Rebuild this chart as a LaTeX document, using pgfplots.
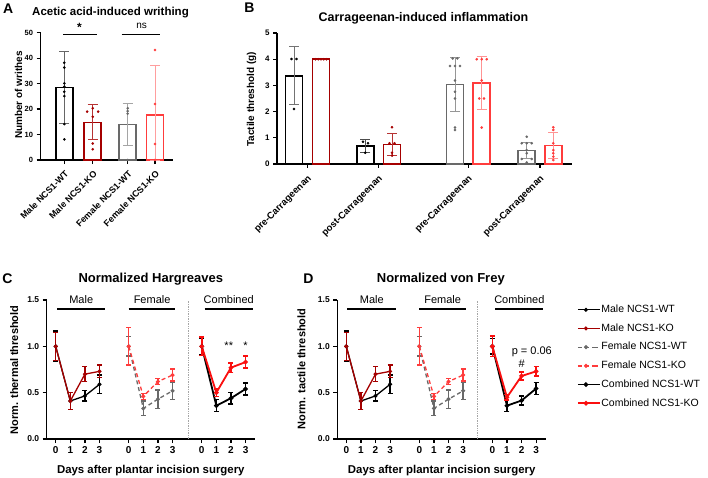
\documentclass[border=0pt]{standalone}
\usepackage{pgfplots}
\pgfplotsset{compat=1.18}
\usepackage{fontspec}
\setmainfont{Liberation Sans}
\definecolor{mred}{RGB}{165,0,0}
\definecolor{fgrey}{RGB}{105,105,105}
\definecolor{fred}{RGB}{255,60,60}
\definecolor{cred}{RGB}{250,15,15}
\newcommand{\fs}[1]{\fontsize{#1}{#1}\selectfont}
\pgfplotsset{
  prism/.style={scale only axis, anchor=south west,
    axis x line*=bottom, axis y line*=left,
    axis line style={line width=1.2pt,-},
    tick align=outside, major tick length=4pt,
    tick style={line width=1.2pt, black},
    /pgf/number format/assume math mode=true, clip=false},
  barp/.style={ybar, bar width=17pt, bar shift=0pt, fill=white, line width=1.6pt, draw=#1},
  dots/.style={only marks, mark=*, mark size=1.1pt, color=#1},
  ebar/.style={error bars/.cd, y dir=both, y explicit,
    error bar style={line width=0.8pt, #1},
    error mark options={rotate=90, mark size=5pt, line width=0.8pt, #1}},
  ln/.style={color=#1, line width=1.3pt, mark=*, mark size=1.3pt, mark options={solid},
    error bars/.cd, y dir=both, y explicit,
    error bar style={line width=1.3pt, solid},
    error mark options={rotate=90, mark size=2.5pt, line width=1.3pt, solid}},
  lnc/.style={color=#1, line width=1.8pt, mark=*, mark size=1.3pt, mark options={solid},
    error bars/.cd, y dir=both, y explicit,
    error bar style={line width=1.5pt, solid},
    error mark options={rotate=90, mark size=2.5pt, line width=1.5pt, solid}},
  cdax/.style={prism, width=208.5pt, height=139pt, xmin=-0.616, xmax=13.66, ymin=0, ymax=1.5,
    ytick={0,0.5,1,1.5}, yticklabel style={font=\bfseries\fs{8.5}, /pgf/number format/.cd, fixed, fixed zerofill, precision=1},
    xtick={0,1,2,3,5,6,7,8,10,11,12,13}, xticklabels={0,1,2,3,0,1,2,3,0,1,2,3},
    xticklabel style={font=\bfseries\fs{10}}},
}
\begin{document}
\begin{tikzpicture}[x=1pt,y=1pt]
\path[use as bounding box] (0,0) rectangle (708,477);

% ---------------- Panel A
\begin{axis}[prism, at={(40.5pt,317pt)}, width=132.5pt, height=127.3pt,
  xmin=40.5, xmax=173, ymin=0, ymax=50, ytick={0,10,20,30,40,50},
  xtick={64.3,92.7,127.7,155},
  xticklabels={Male NCS1-WT,Male NCS1-KO,Female NCS1-WT,Female NCS1-KO},
  xticklabel style={xshift=5pt, yshift=-6pt, rotate=45, anchor=east, font=\bfseries\fs{9}},
  yticklabel style={font=\bfseries\fs{7.5}}]
\addplot[barp=black, ebar=black!60] coordinates {(64.3,28.5) +- (0,14)};
\addplot[dots=black] coordinates {(64.3,38.2) (64.3,36.3) (64.3,30.1) (64.3,28.8) (64.3,26.8) (64.3,25.1) (64.3,14.1) (64.3,8.1)};
\addplot[barp=mred, ebar=mred!80] coordinates {(92.7,14.8) +- (0,6.9)};
\addplot[dots=mred] coordinates {(92.7,20.3) (87.2,19) (98.2,19) (92.7,17) (92.7,6.5) (92.7,4.2)};
\addplot[barp=fgrey, ebar=fgrey!60] coordinates {(127.7,14) +- (0,8.3)};
\addplot[dots=fgrey] coordinates {(127.7,20.3) (127.7,19.2) (127.7,18.2) (127.7,0)};
\addplot[barp=fred, ebar=fred!50] coordinates {(155,17.7) += (0,19.3) -= (0,17.7)};
\addplot[dots=fred] coordinates {(155,43.2) (155,22) (155,6.3) (155,0)};
\draw[line width=1.3pt] (axis cs:63.3,49.4) -- (axis cs:96.7,49.4);
\draw[line width=1.3pt] (axis cs:121.7,49.4) -- (axis cs:160,49.4);
\node[font=\bfseries\fs{12}, anchor=base] at (axis cs:79.5,50.6) {*};
\node[font=\fs{10}, anchor=base] at (axis cs:141.7,51.8) {ns};
\end{axis}

% ---------------- Panel B
\begin{axis}[prism, at={(277pt,313pt)}, width=295pt, height=131pt,
  xmin=277, xmax=572, ymin=0, ymax=5, ytick={0,1,2,3,4,5},
  xtick={307.5,378.7,468.3,540},
  xticklabels={pre-Carrageenan,post-Carrageenan,pre-Carrageenan,post-Carrageenan},
  xticklabel style={xshift=5pt, yshift=-7pt, rotate=45, anchor=east, font=\bfseries\fs{9.5}},
  yticklabel style={font=\bfseries\fs{8}}]
\addplot[barp=black, ebar=black!55] coordinates {(294,3.37) +- (0,1.1)};
\addplot[dots=black] coordinates {(291.5,4.01) (296.5,4.01) (294,2.1)};
\addplot[barp=mred, ebar=mred!80] coordinates {(321,4.0) +- (0,0)};
\addplot[dots=mred] coordinates {(315.5,4.0) (318.3,4.0) (321,4.0) (323.7,4.0) (326.5,4.0)};
\addplot[barp=black, ebar=black!70] coordinates {(365.3,0.69) +- (0,0.24)};
\addplot[dots=black] coordinates {(363,0.85) (368,0.79) (365.3,0.43)};
\addplot[barp=mred, ebar=mred!80] coordinates {(392,0.75) +- (0,0.43)};
\addplot[dots=mred] coordinates {(392,1.4) (389.5,0.79) (394.5,0.79) (392,0.43) (392,0.32)};
\addplot[barp=fgrey, ebar=fgrey!70] coordinates {(455,3.04) +- (0,1.02)};
\addplot[dots=fgrey] coordinates {(452.7,4.03) (457.3,4.03) (450,3.74) (455,3.74) (460,3.74) (455,3.19) (455,2.76) (455,2.5) (455,1.39) (455,1.3)};
\addplot[barp=fred, ebar=fred!55] coordinates {(481.7,3.09) +- (0,1.0)};
\addplot[dots=fred] coordinates {(476.7,4.0) (481.7,4.0) (486.7,4.0) (481.7,3.19) (479.3,2.5) (484,2.5) (481.7,1.39)};
\addplot[barp=fgrey, ebar=fgrey!70] coordinates {(526.7,0.52) +- (0,0.3)};
\addplot[dots=fgrey] coordinates {(526.7,1.04) (521.7,0.79) (526.7,0.79) (531.7,0.79) (526.7,0.53) (526.7,0.41) (521.7,0.19) (531.7,0.19) (526.7,0.06)};
\addplot[barp=fred, ebar=fred!55] coordinates {(553.3,0.70) +- (0,0.49)};
\addplot[dots=fred] coordinates {(553.3,1.4) (553.3,1.3) (553.3,0.79) (553.3,0.53) (553.3,0.41) (553.3,0.28) (553.3,0.15)};
\end{axis}

% ---------------- Panel C
\begin{axis}[cdax, at={(46.7pt,38pt)}]
\draw[densely dotted, line width=0.7pt, black!35] (axis cs:9.05,0) -- (axis cs:9.05,1.5);
\addplot[ln=black] coordinates {(0,1.0) +- (0,0.165) (1,0.41) +- (0,0.09) (2,0.465) +- (0,0.055) (3,0.59) +- (0,0.1)};
\addplot[ln=mred] coordinates {(0,1.0) +- (0,0.15) (1,0.41) +- (0,0.095) (2,0.70) +- (0,0.08) (3,0.73) +- (0,0.07)};
\addplot[dash pattern=on 4pt off 3pt, ln=fgrey] coordinates {(5,1.0) +- (0,0.105) (6,0.33) +- (0,0.08) (7,0.43) +- (0,0.1) (8,0.52) +- (0,0.09)};
\addplot[dash pattern=on 4pt off 3pt, ln=fred] coordinates {(5,1.0) +- (0,0.2) (6,0.46) +- (0,0.03) (7,0.62) +- (0,0.03) (8,0.69) +- (0,0.065)};
\addplot[lnc=black] coordinates {(10,1.0) +- (0,0.09) (11,0.36) +- (0,0.065) (12,0.44) +- (0,0.06) (13,0.54) +- (0,0.065)};
\addplot[lnc=cred] coordinates {(10,1.0) +- (0,0.1) (11,0.50) +- (0,0.04) (12,0.77) +- (0,0.05) (13,0.83) +- (0,0.065)};
\draw[line width=1.2pt] (axis cs:0.1,1.403) -- (axis cs:3.4,1.403);
\draw[line width=1.2pt] (axis cs:5.0,1.403) -- (axis cs:8.2,1.403);
\draw[line width=1.2pt] (axis cs:10.2,1.403) -- (axis cs:13.5,1.403);
\node[font=\fs{11}, anchor=base] at (axis cs:1.75,1.464) {Male};
\node[font=\fs{11}, anchor=base] at (axis cs:6.6,1.464) {Female};
\node[font=\fs{11}, anchor=base] at (axis cs:11.85,1.464) {Combined};
\node[font=\fs{11}, anchor=base] at (axis cs:11.85,0.97) {**};
\node[font=\fs{11}, anchor=base] at (axis cs:13,0.97) {*};
\end{axis}

% ---------------- Panel D
\begin{axis}[cdax, at={(337.3pt,38pt)},
  legend style={at={(axis description cs:1.149,0.969)}, anchor=north west, draw=none, fill=none,
    inner sep=0pt, font=\fs{10.5}, row sep=8.2pt,
    nodes={inner sep=0.5pt, text height=7.5pt, text depth=2pt}},
  legend cell align=left,
  legend image code/.code={\draw[mark repeat=2, mark phase=2, #1] plot coordinates {(0pt,0pt) (8pt,0pt) (16pt,0pt)}; \path (16pt,0pt) -- (22pt,0pt);}]
\draw[densely dotted, line width=0.7pt, black!35] (axis cs:8.97,0) -- (axis cs:8.97,1.5);
\addplot[ln=black] coordinates {(0,1.0) +- (0,0.165) (1,0.41) +- (0,0.09) (2,0.465) +- (0,0.055) (3,0.59) +- (0,0.1)};
\addlegendentry{Male NCS1-WT}
\addplot[ln=mred] coordinates {(0,1.0) +- (0,0.15) (1,0.41) +- (0,0.095) (2,0.70) +- (0,0.08) (3,0.73) +- (0,0.07)};
\addlegendentry{Male NCS1-KO}
\addplot[dash pattern=on 4pt off 3pt, ln=fgrey] coordinates {(5,1.0) +- (0,0.105) (6,0.33) +- (0,0.08) (7,0.43) +- (0,0.1) (8,0.52) +- (0,0.09)};
\addlegendentry{Female NCS1-WT}
\addplot[dash pattern=on 4pt off 3pt, ln=fred] coordinates {(5,1.0) +- (0,0.2) (6,0.46) +- (0,0.03) (7,0.62) +- (0,0.03) (8,0.69) +- (0,0.065)};
\addlegendentry{Female NCS1-KO}
\addplot[lnc=black] coordinates {(10,1.0) +- (0,0.085) (11,0.36) +- (0,0.065) (12,0.415) +- (0,0.05) (13,0.545) +- (0,0.065)};
\addlegendentry{Combined NCS1-WT}
\addplot[lnc=cred] coordinates {(10,1.0) +- (0,0.11) (11,0.45) +- (0,0.03) (12,0.68) +- (0,0.045) (13,0.73) +- (0,0.05)};
\addlegendentry{Combined NCS1-KO}
\draw[line width=1.2pt] (axis cs:0.07,1.403) -- (axis cs:3.38,1.403);
\draw[line width=1.2pt] (axis cs:5.0,1.403) -- (axis cs:8.2,1.403);
\draw[line width=1.2pt] (axis cs:10.2,1.403) -- (axis cs:13.5,1.403);
\node[font=\fs{11}, anchor=base] at (axis cs:1.75,1.464) {Male};
\node[font=\fs{11}, anchor=base] at (axis cs:6.6,1.464) {Female};
\node[font=\fs{11}, anchor=base] at (axis cs:11.85,1.464) {Combined};
\node[font=\fs{11}] at (axis cs:12.7,0.94) {p = 0.06};
\node[font=\fs{11}] at (axis cs:12,0.81) {\#};
\end{axis}

% ---------------- Labels and titles
\node[font=\bfseries\fs{14}, anchor=base] at (8.3,463.7) {A};
\node[font=\bfseries\fs{11.5}, anchor=base] at (110.5,461) {Acetic acid-induced writhing};
\node[font=\bfseries\fs{10}, rotate=90, anchor=base] at (22,382) {Number of writhes};

\node[font=\bfseries\fs{14}, anchor=base] at (249.5,464.3) {B};
\node[font=\bfseries\fs{12.5}, anchor=base] at (423.5,455) {Carrageenan-induced inflammation};
\node[font=\bfseries\fs{10}, rotate=90, anchor=base] at (254,377.8) {Tactile threshold (g)};

\node[font=\bfseries\fs{14}, anchor=base] at (7.5,193.7) {C};
\node[font=\bfseries\fs{13}, anchor=base] at (150.8,194.7) {Normalized Hargreaves};
\node[font=\bfseries\fs{11}, rotate=90, anchor=base] at (18,107) {Norm. thermal threshold};
\node[font=\bfseries\fs{11.4}, anchor=base] at (150.8,4) {Days after plantar incision surgery};

\node[font=\bfseries\fs{14}, anchor=base] at (308.3,193.7) {D};
\node[font=\bfseries\fs{13}, anchor=base] at (440.8,194.7) {Normalized von Frey};
\node[font=\bfseries\fs{11}, rotate=90, anchor=base] at (305.3,108) {Norm. tactile threshold};
\node[font=\bfseries\fs{11.4}, anchor=base] at (441.7,4) {Days after plantar incision surgery};
\end{tikzpicture}
\end{document}
